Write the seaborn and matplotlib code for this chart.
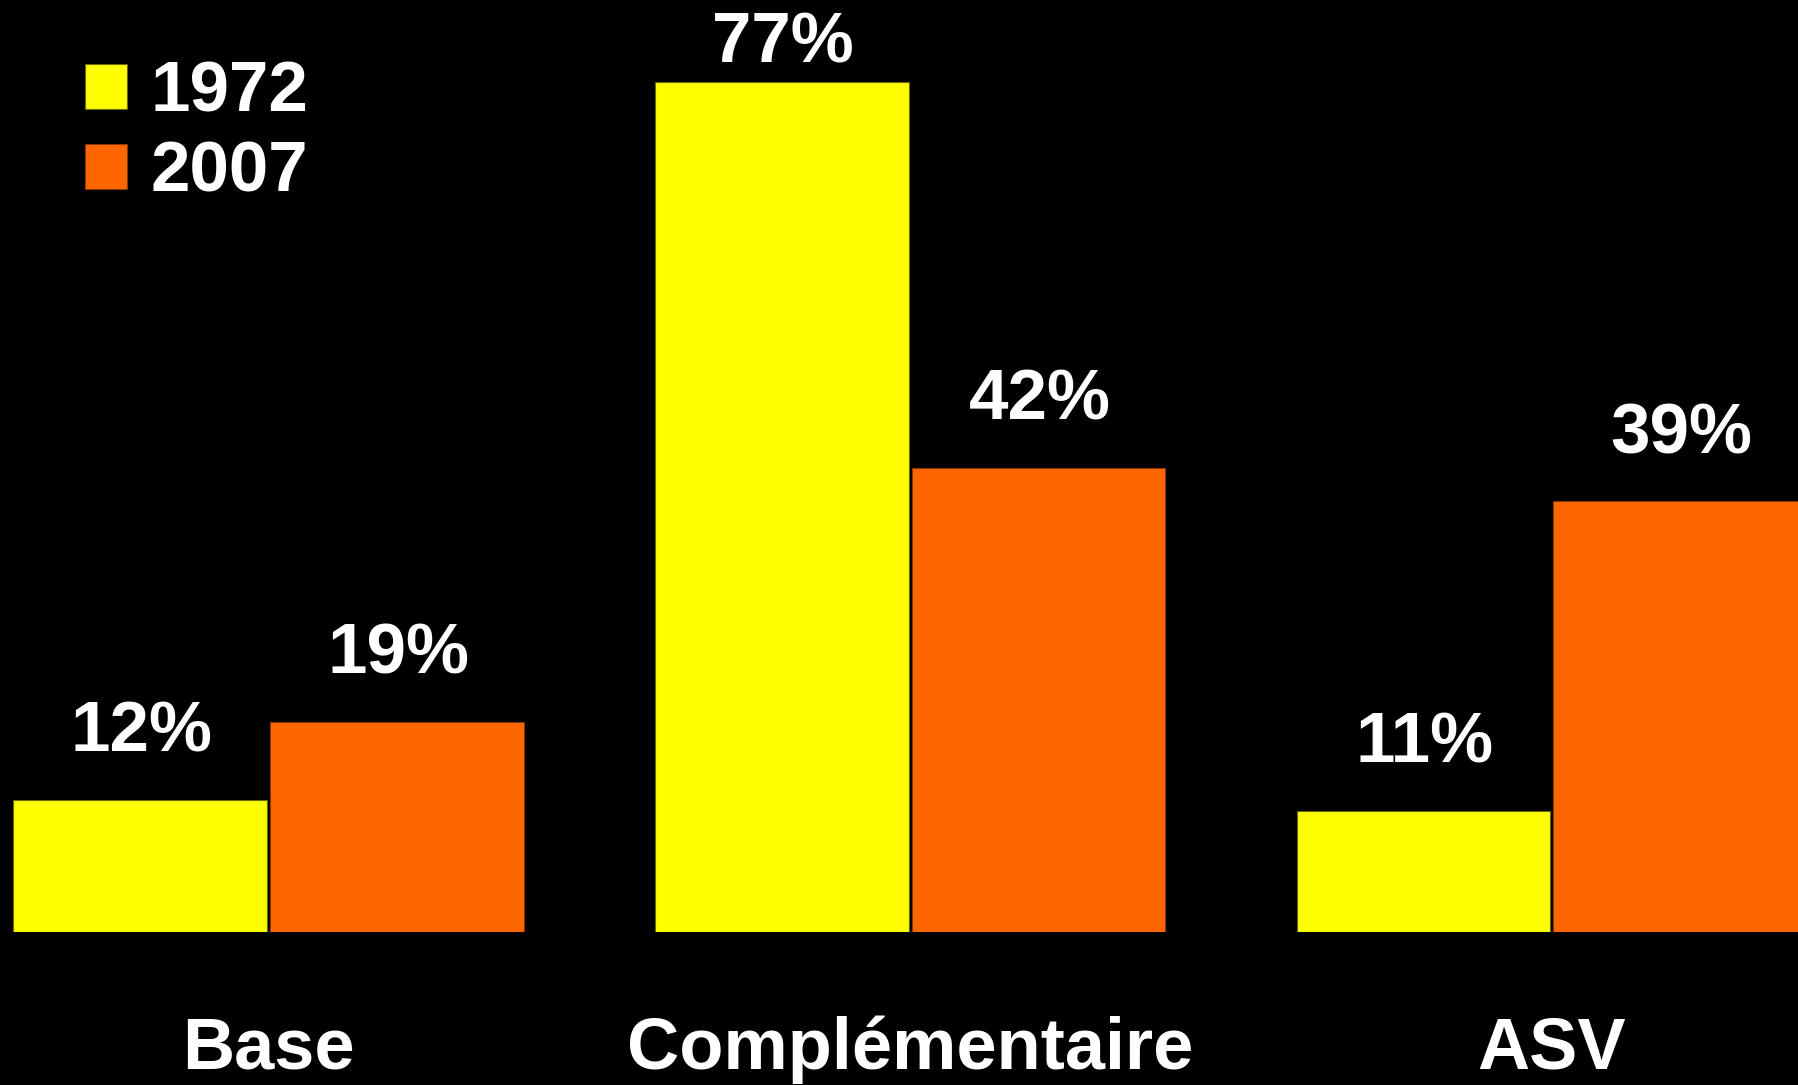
import pandas as pd
import numpy as np
import matplotlib.pyplot as plt
import seaborn as sns

# Data
categories = ['Base', 'Complémentaire', 'ASV']
years = ['1972', '2007']
values_1972 = [12, 77, 11]
values_2007 = [19, 42, 39]

df = pd.DataFrame({
    'categorie': categories * 2,
    'annee': [years[0]] * 3 + [years[1]] * 3,
    'valeur': values_1972 + values_2007,
})

colors = {'1972': '#FFFF00', '2007': '#FF6600'}
edges = {'1972': '#6a6a00', '2007': '#8a3800'}

sns.set_style('dark')
plt.rcParams['font.family'] = ['Liberation Sans', 'DejaVu Sans']
plt.rcParams['font.weight'] = 'bold'

fig = plt.figure(figsize=(17.99, 10.85), dpi=100, facecolor='black')
ax = fig.add_axes([0, 0.141, 1, 0.859])
ax.set_facecolor('black')

sns.barplot(data=df, x='categorie', y='valeur', hue='annee', palette=colors,
            saturation=1, width=0.8, gap=0.012, ax=ax, linewidth=0.8)

for cont, yr in zip(ax.containers, years):
    for p in cont:
        p.set_edgecolor(edges[yr])

ax.set_xlim(-0.4186, 2.385)
ax.set_ylim(0, 84.4)

# Value labels
for cont in ax.containers:
    for p in cont:
        v = p.get_height()
        pad = 24 if v < 70 else 3
        ax.annotate(f"{v:.0f}%", (p.get_x() + p.get_width() / 2, v),
                    xytext=(1, pad), textcoords='offset points',
                    ha='center', va='bottom', color='white',
                    fontsize=51, fontweight='bold', annotation_clip=False)

ax.set_xlabel('')
ax.set_ylabel('')
ax.set_yticks([])
ax.tick_params(axis='x', length=0, pad=60, labelsize=52, labelcolor='white')
for lbl in ax.get_xticklabels():
    lbl.set_fontweight('bold')
for s in ax.spines.values():
    s.set_visible(False)
ax.grid(False)

handles, labels = ax.get_legend_handles_labels()
for h, yr in zip(handles, labels):
    h.set_edgecolor(edges[yr])
ax.legend(handles, labels, loc='upper left', bbox_to_anchor=(85 / 1799, 0.944),
          bbox_transform=fig.transFigure, frameon=False, borderpad=0,
          borderaxespad=0, handlelength=0.6, handleheight=0.6,
          handletextpad=0.33, labelspacing=0.2, labelcolor='white',
          prop={'size': 51, 'weight': 'bold'})

fig.savefig('out.png', dpi=100, facecolor='black')
